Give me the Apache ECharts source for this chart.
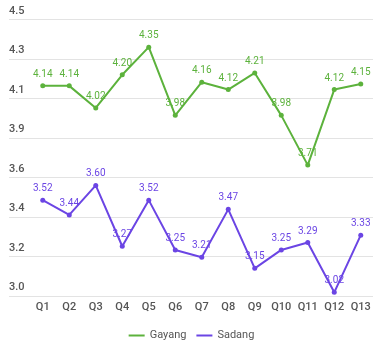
<!DOCTYPE html>
<html><head><meta charset="utf-8">
<script src="https://cdn.jsdelivr.net/npm/echarts@6/dist/echarts.min.js"></script>
<style>html,body{margin:0;padding:0;background:#fff}#c{width:383px;height:349px}</style>
</head><body><div id="c"></div>
<script>
const categories = ['Q1','Q2','Q3','Q4','Q5','Q6','Q7','Q8','Q9','Q10','Q11','Q12','Q13'];
const gayang = [4.14,4.14,4.02,4.20,4.35,3.98,4.16,4.12,4.21,3.98,3.71,4.12,4.15];
const sadang = [3.52,3.44,3.60,3.27,3.52,3.25,3.21,3.47,3.15,3.25,3.29,3.02,3.33];
const yTickLabels = ['3.0','3.2','3.4','3.6','3.9','4.1','4.3','4.5'];
const yMin = 3.0, yMax = 4.5;

const green = '#5cb23c', purple = '#6b45e4';
const chart = echarts.init(document.getElementById('c'));
const font = 'Roboto, sans-serif';
chart.setOption({
  animation: false,
  textStyle: {fontFamily: font},
  grid: [
    {left: 9, right: 10, top: 19.5, bottom: 53},
    {left: 29.5, right: 9, top: 19.5, bottom: 53}
  ],
  xAxis: [
    {gridIndex: 0, type: 'category', data: categories, show: false},
    {gridIndex: 1, type: 'category', data: categories, boundaryGap: true,
     axisLine: {show: false}, axisTick: {show: false},
     axisLabel: {color: '#555', fontSize: 11, fontWeight: 500, margin: 6, fontFamily: font}}
  ],
  yAxis: [
    {gridIndex: 0, type: 'value', min: 0, max: yTickLabels.length - 1, interval: 1,
     axisLine: {show: false}, axisTick: {show: false},
     splitLine: {lineStyle: {color: '#e3e3e3', width: 1}},
     axisLabel: {inside: true, margin: 0, verticalAlign: 'bottom', padding: [0,0,3,0],
       color: '#555', fontSize: 11, fontWeight: 500, fontFamily: font,
       formatter: v => yTickLabels[v]}},
    {gridIndex: 1, type: 'value', min: yMin, max: yMax, show: false}
  ],
  legend: {
    bottom: 3, left: 'center', icon: 'rect', itemWidth: 16, itemHeight: 2, itemGap: 10,
    textStyle: {color: '#555', fontSize: 11, fontFamily: font},
    data: ['Gayang', 'Sadang']
  },
  series: [
    {name: 'Gayang', type: 'line', xAxisIndex: 1, yAxisIndex: 1, data: gayang,
     color: green, symbol: 'circle', symbolSize: 5, lineStyle: {width: 2},
     label: {show: true, position: 'top', color: green, fontSize: 10, distance: 4,
       formatter: p => p.value.toFixed(2)}},
    {name: 'Sadang', type: 'line', xAxisIndex: 1, yAxisIndex: 1, data: sadang,
     color: purple, symbol: 'circle', symbolSize: 5, lineStyle: {width: 2},
     label: {show: true, position: 'top', color: purple, fontSize: 10, distance: 4,
       formatter: p => p.value.toFixed(2)}}
  ]
});
</script></body></html>
